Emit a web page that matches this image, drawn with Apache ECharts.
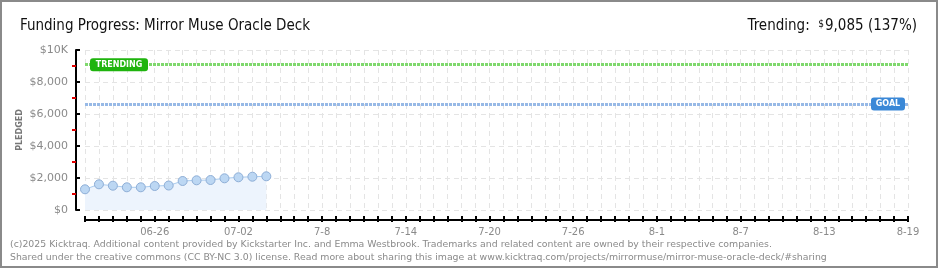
<!DOCTYPE html>
<html>
<head>
<meta charset="utf-8">
<script src="https://cdn.jsdelivr.net/npm/echarts@6/dist/echarts.min.js"></script>
<style>
  html, body { margin: 0; padding: 0; background: #fff; }
  #wrap { position: relative; width: 940px; height: 270px; }
  #chart { width: 940px; height: 270px; }
  #frame { position: absolute; left: 0; top: 0; width: 938px; height: 268px; box-sizing: border-box; border: 2px solid #8a8a8a; pointer-events: none; }
  #foot { position: absolute; left: 10px; top: 237px; font-family: "DejaVu Sans", Verdana, sans-serif; font-size: 9.35px; line-height: 13px; color: #8a8a8a; white-space: nowrap; }
</style>
</head>
<body>
<div id="wrap">
  <div id="chart"></div>
  <div id="foot">(c)2025 Kicktraq. Additional content provided by Kickstarter Inc. and Emma Westbrook. Trademarks and related content are owned by their respective companies.<br>Shared under the creative commons (CC BY-NC 3.0) license. Read more about sharing this image at www.kicktraq.com/projects/mirrormuse/mirror-muse-oracle-deck/#sharing</div>
  <div id="frame"></div>
</div>
<script>
// days on the x axis (06-21 .. 08-19)
const days = [
  '06-21','06-22','06-23','06-24','06-25','06-26','06-27','06-28','06-29','06-30',
  '07-01','07-02','07-03','07-04','07-05','07-06','07-07','07-08','07-09','07-10',
  '07-11','07-12','07-13','07-14','07-15','07-16','07-17','07-18','07-19','07-20',
  '07-21','07-22','07-23','07-24','07-25','07-26','07-27','07-28','07-29','07-30',
  '07-31','08-01','08-02','08-03','08-04','08-05','08-06','08-07','08-08','08-09',
  '08-10','08-11','08-12','08-13','08-14','08-15','08-16','08-17','08-18','08-19'
];
const tickLabels = ['06-26','07-02','7-8','7-14','7-20','7-26','8-1','8-7','8-13','8-19'];
const pledged = [1294, 1606, 1519, 1419, 1419, 1500, 1531, 1813, 1856, 1875, 1981, 2044, 2081, 2106];
const trendingValue = 9085;
const goalValue = 6630;
const yMinorTicks = [1000, 3000, 5000, 7000, 9000];

let myChart = echarts.init(document.getElementById('chart'));

const labelFont = '"DejaVu Sans", sans-serif';
const titleFont = '"Liberation Sans Narrow", "DejaVu Sans Condensed", sans-serif';
const isLabelIdx = (i) => i >= 5 && (i - 5) % 6 === 0;

let option = {
  animation: false,
  title: [{
    text: 'Funding Progress: Mirror Muse Oracle Deck',
    left: 15,
    top: 14,
    textStyle: { fontFamily: titleFont, fontSize: 15, fontWeight: 'normal', color: '#111' }
  }, {
    text: '{a|Trending:  }{s|$}{a|9,085 (137%)}',
    right: 18,
    top: 14,
    textStyle: {
      fontWeight: 'normal',
      rich: {
        a: { fontFamily: titleFont, fontSize: 15, fontWeight: 'normal', color: '#111' },
        s: { fontFamily: titleFont, fontSize: 10, fontWeight: 'normal', color: '#111', verticalAlign: 'top', padding: [0, 1, 5, 0] }
      }
    }
  }],
  grid: { left: 85, right: 32, top: 50, bottom: 60 },
  xAxis: [{
    type: 'category',
    data: days,
    boundaryGap: false,
    offset: 10,
    axisLine: { onZero: false, lineStyle: { color: '#000', width: 2 } },
    axisTick: { inside: true, length: 4, interval: 0, lineStyle: { color: '#000', width: 2 } },
    axisLabel: {
      interval: (i) => isLabelIdx(i),
      formatter: (v, i) => tickLabels[(i - 5) / 6],
      color: '#8a8a8a', fontSize: 10, fontFamily: labelFont, margin: 7
    },
    splitLine: { show: true, interval: 0, lineStyle: { color: '#e4e4e4', type: [5, 4] } }
  }, {
    type: 'category',
    data: days,
    boundaryGap: false,
    position: 'bottom',
    offset: 10,
    axisLine: { show: false, onZero: false },
    axisTick: { length: 2, interval: 0, lineStyle: { color: '#000', width: 2 } },
    axisLabel: { show: false },
    splitLine: { show: false }
  }],
  yAxis: [{
    type: 'value',
    min: 0, max: 10000, interval: 2000,
    offset: 9,
    name: 'PLEDGED',
    nameLocation: 'middle',
    nameRotate: 90,
    nameGap: 52,
    nameMoveOverlap: false,
    nameTextStyle: { color: '#777', fontSize: 8, fontFamily: labelFont, fontWeight: 'bold' },
    axisLine: { show: true, onZero: false, lineStyle: { color: '#000', width: 2 } },
    axisTick: { show: true, inside: true, length: 4, lineStyle: { color: '#000', width: 2 } },
    axisLabel: {
      formatter: (v) => v === 10000 ? '$10K' : '$' + v.toLocaleString('en-US'),
      color: '#8a8a8a', fontSize: 11, fontFamily: labelFont, margin: 8
    },
    splitLine: { lineStyle: { color: '#e4e4e4', type: [5, 4] } }
  }, {
    type: 'value',
    min: 0, max: 10000,
    position: 'left',
    offset: 9,
    axisLine: { show: false, onZero: false },
    axisTick: { show: true, length: 4, customValues: yMinorTicks, lineStyle: { color: '#e00000', width: 2 } },
    axisLabel: { show: false },
    splitLine: { show: false }
  }],
  series: [{
    name: 'Pledged',
    type: 'line',
    data: pledged,
    symbol: 'circle',
    symbolSize: 9,
    lineStyle: { color: '#a9cbee', width: 1 },
    itemStyle: { color: '#bcd7f3', borderColor: '#8eaed6', borderWidth: 1 },
    areaStyle: { color: '#edf4fd', opacity: 1 },
    markLine: {
      silent: true,
      symbol: 'none',
      label: { show: false },
      data: [
        { yAxis: trendingValue, lineStyle: { color: '#7fd86d', width: 3, type: [3, 1] } },
        { yAxis: goalValue, lineStyle: { color: '#97b9e6', width: 3, type: [3, 1] } }
      ]
    }
  }]
};

myChart.setOption(option);

// badges sitting on the trending / goal lines
const yTrend = myChart.convertToPixel({ yAxisIndex: 0 }, trendingValue);
const yGoal = myChart.convertToPixel({ yAxisIndex: 0 }, goalValue);
const xStart = myChart.convertToPixel({ xAxisIndex: 0 }, days[0]);
const xEnd = myChart.convertToPixel({ xAxisIndex: 0 }, days[days.length - 1]);

function badge(x, y, w, text, color) {
  return {
    type: 'group',
    x: x, y: y - 6.5,
    z: 100,
    children: [{
      type: 'rect',
      z: 100,
      shape: { x: 0, y: 0, width: w, height: 13, r: 3 },
      style: { fill: color }
    }, {
      type: 'text',
      z: 101,
      x: w / 2, y: 7,
      style: {
        text: text, fill: '#fff', font: 'bold 8px "DejaVu Sans", sans-serif',
        align: 'center', verticalAlign: 'middle'
      }
    }]
  };
}

myChart.setOption({
  graphic: [
    badge(xStart + 5, yTrend, 58, 'TRENDING', '#1fb40e'),
    badge(xEnd - 37, yGoal, 34, 'GOAL', '#3a88d7')
  ]
});
</script>
</body>
</html>
